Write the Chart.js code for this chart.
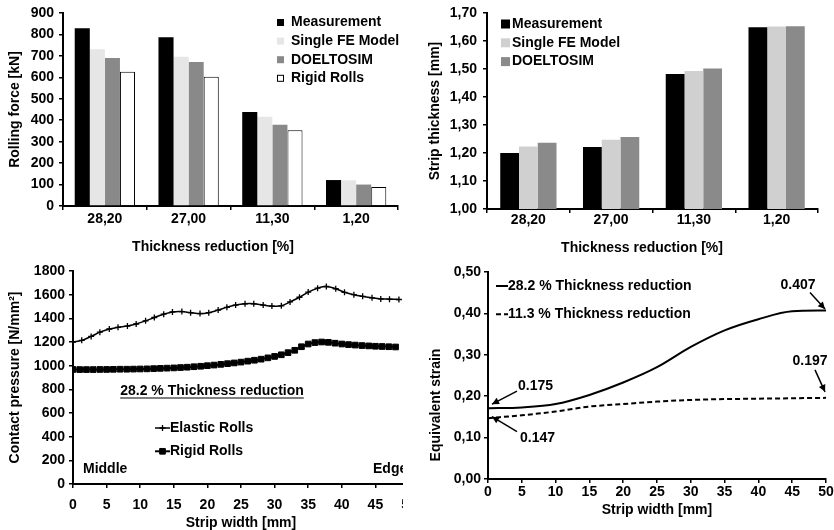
<!DOCTYPE html>
<html>
<head>
<meta charset="utf-8">
<script src="https://cdn.jsdelivr.net/npm/chart.js@4.4.0/dist/chart.umd.min.js"></script>
<style>
html, body { margin: 0; padding: 0; background: #fff; width: 834px; height: 530px; overflow: hidden; }
.panel { position: absolute; overflow: hidden; }
canvas { display: block; }
</style>
</head>
<body>
<div class="panel" style="left:0;top:0;width:420px;height:260px"><canvas id="force" width="417" height="256"></canvas></div>
<div class="panel" style="left:420px;top:0;width:414px;height:260px"><canvas id="thick" width="414" height="257"></canvas></div>
<div class="panel" style="left:0;top:260px;width:403px;height:270px"><canvas id="pressure" width="430" height="272"></canvas></div>
<div class="panel" style="left:420px;top:260px;width:414px;height:270px"><canvas id="strain" width="430" height="259"></canvas></div>
<script>
// top charts: thickness reduction categories
const reductions = ['28,20', '27,00', '11,30', '1,20'];
const forceMeasurement = [829, 787, 438, 121];
const forceSingleFE = [731, 696, 416, 120];
const forceDoeltosim = [690, 672, 379, 100];
const forceRigid = [626, 603, 353, 89];

const thickMeasurement = [1.200, 1.221, 1.482, 1.649];
const thickSingleFE = [1.223, 1.247, 1.493, 1.652];
const thickDoeltosim = [1.237, 1.257, 1.502, 1.653];

// contact pressure along strip width
const elasticX = [0, 1.3, 2.7, 4.0, 5.4, 6.7, 8.1, 9.4, 10.8, 12.1, 13.5, 14.8, 16.2, 17.5, 18.9, 20.2, 21.6, 22.9, 24.2,
    25.6, 26.9, 28.3, 29.6, 31.0, 32.3, 33.7, 35.0, 36.4, 37.7, 39.1, 40.4, 41.8, 43.1, 44.5, 45.8, 47.1, 48.5];
const elasticPressure = [1200, 1214, 1247, 1283, 1310, 1324, 1335, 1352, 1379, 1407, 1435, 1454, 1457, 1448, 1440, 1448, 1470, 1493, 1512,
    1523, 1523, 1512, 1504, 1506, 1539, 1578, 1622, 1655, 1669, 1650, 1620, 1600, 1586, 1573, 1564, 1562, 1559];
const rigidX = [0, 1, 2, 3, 4, 5, 6, 7, 8, 9, 10, 11, 12, 13, 14, 15, 16, 17, 18, 19, 20, 21, 22, 23, 24,
    25, 26, 27, 28, 29, 30, 31, 32, 33, 34, 35, 36, 37, 38, 39, 40, 41, 42, 43, 44, 45, 46, 47, 48];
const rigidPressure = [968, 967, 967, 967, 968, 968, 969, 970, 970, 971, 972, 973, 975, 977, 979, 981, 984, 987, 991, 995,
    1000, 1005, 1011, 1017, 1023, 1030, 1038, 1046, 1055, 1066, 1078, 1092, 1110, 1130, 1160, 1183, 1195, 1200, 1197, 1190,
    1183, 1178, 1174, 1170, 1167, 1164, 1162, 1160, 1158];

// equivalent strain along strip width
const strainX = [0, 5, 10, 15, 20, 25, 30, 35, 40, 45, 50];
const strain282 = [0.171, 0.173, 0.181, 0.203, 0.233, 0.270, 0.319, 0.359, 0.386, 0.405, 0.407];
const strain113 = [0.147, 0.154, 0.163, 0.175, 0.181, 0.187, 0.191, 0.193, 0.194, 0.195, 0.196];
const strainNoteText = ['0.175', '0.147', '0.407', '0.197'];

const FONT = '"Liberation Sans", Arial, sans-serif';
Chart.defaults.font.family = FONT;
Chart.defaults.font.size = 14;
Chart.defaults.font.weight = 'bold';
Chart.defaults.color = '#000';
Chart.defaults.animation = false;
Chart.defaults.plugins.legend.display = false;
Chart.defaults.plugins.tooltip.enabled = false;

const comma = (v) => v.toFixed(2).replace('.', ',');
const plain = (v) => String(v);

// shared look of an axis: black 2px line, small outside tick marks
const frame = (title, tickPad, titlePad, ticks = {}) => ({
    border: { display: true, color: '#000', width: 2 },
    grid: { display: true, drawOnChartArea: false, drawTicks: true, tickLength: 4, color: '#000', lineWidth: 1.5 },
    title: { display: !!title, text: title, padding: { top: titlePad, bottom: 0 }, font: { size: 14, weight: 'bold' } },
    ticks: { padding: tickPad, font: { size: 14, weight: 'bold', lineHeight: 1 }, ...ticks }
});

const boxKey = {
    id: 'boxKey',
    afterDraw(chart, args, o) {
        const ctx = chart.ctx;
        ctx.save();
        ctx.font = `bold 14px ${FONT}`;
        ctx.textBaseline = 'middle';
        chart.data.datasets.forEach((ds, i) => {
            const y = o.y + i * o.gap;
            ctx.fillStyle = ds.backgroundColor;
            ctx.fillRect(o.x, y - o.h / 2, o.w, o.h);
            if (ds.borderWidth) {
                ctx.lineWidth = 1;
                ctx.strokeStyle = ds.borderColor;
                ctx.strokeRect(o.x + 0.5, y - o.h / 2 + 0.5, o.w - 1, o.h - 1);
            }
            ctx.fillStyle = '#000';
            ctx.fillText(ds.label, o.textX, y);
        });
        ctx.textAlign = 'center';
        ctx.fillText(o.title, o.titleX, o.titleY);
        ctx.restore();
    }
};

const lineKey = {
    id: 'lineKey',
    afterDraw(chart, args, o) {
        const ctx = chart.ctx;
        ctx.save();
        ctx.font = `bold 14px ${FONT}`;
        ctx.textBaseline = 'middle';
        ctx.strokeStyle = '#000';
        ctx.fillStyle = '#000';
        chart.data.datasets.forEach((ds, i) => {
            const y = o.y + i * o.gap;
            ctx.lineWidth = ds.borderWidth;
            ctx.setLineDash(ds.borderDash || []);
            ctx.beginPath();
            ctx.moveTo(o.x0, y);
            ctx.lineTo(o.x1, y);
            ctx.stroke();
            ctx.setLineDash([]);
            if (ds.pointRadius) {
                ctx.lineWidth = ds.pointBorderWidth;
                Chart.helpers.drawPoint(ctx, { pointStyle: ds.pointStyle, radius: ds.pointRadius, rotation: 0, borderWidth: ds.pointBorderWidth }, (o.x0 + o.x1) / 2, y);
            }
            ctx.fillText(ds.label, o.textX, y);
        });
        (o.texts || []).forEach((t) => {
            ctx.textAlign = t.align || 'left';
            ctx.fillText(t.text, t.x, t.y);
            if (t.underline) {
                const w = ctx.measureText(t.text).width;
                const x0 = t.align === 'center' ? t.x - w / 2 : t.x;
                ctx.lineWidth = 1.2;
                ctx.beginPath();
                ctx.moveTo(x0, t.y + 7);
                ctx.lineTo(x0 + w, t.y + 7);
                ctx.stroke();
            }
        });
        if (o.yTitle) {
            ctx.translate(o.yTitle.x, o.yTitle.y);
            ctx.rotate(-Math.PI / 2);
            ctx.textAlign = 'center';
            ctx.fillText(o.yTitle.text, 0, 0);
        }
        ctx.restore();
    }
};

// arrows pointing at curve ends, anchored on the data through the scales
const arrowNotes = {
    id: 'arrowNotes',
    afterDraw(chart, args, o) {
        const ctx = chart.ctx;
        const xs = chart.scales.x, ys = chart.scales.y;
        ctx.save();
        ctx.font = `bold 14px ${FONT}`;
        ctx.textBaseline = 'middle';
        ctx.strokeStyle = '#000';
        ctx.fillStyle = '#000';
        ctx.lineWidth = 1.5;
        o.notes.forEach((n) => {
            const px = xs.getPixelForValue(strainX[n.i]);
            const py = ys.getPixelForValue(n.series[n.i]);
            const tx = px + n.tip[0], ty = py + n.tip[1];
            const sx = px + n.tail[0], sy = py + n.tail[1];
            ctx.beginPath();
            ctx.moveTo(sx, sy);
            ctx.lineTo(tx, ty);
            ctx.stroke();
            const a = Math.atan2(ty - sy, tx - sx);
            ctx.beginPath();
            ctx.moveTo(tx, ty);
            ctx.lineTo(tx - 7 * Math.cos(a) + 3.5 * Math.sin(a), ty - 7 * Math.sin(a) - 3.5 * Math.cos(a));
            ctx.lineTo(tx - 7 * Math.cos(a) - 3.5 * Math.sin(a), ty - 7 * Math.sin(a) + 3.5 * Math.cos(a));
            ctx.closePath();
            ctx.fill();
            ctx.textAlign = n.align;
            ctx.fillText(n.text, px + n.label[0], py + n.label[1]);
        });
        ctx.restore();
    }
};

new Chart(document.getElementById('force'), {
    type: 'bar',
    data: {
        labels: reductions,
        datasets: [
            { label: 'Measurement', data: forceMeasurement, backgroundColor: '#000000' },
            { label: 'Single FE Model', data: forceSingleFE, backgroundColor: '#e6e6e6' },
            { label: 'DOELTOSIM', data: forceDoeltosim, backgroundColor: '#898989' },
            { label: 'Rigid Rolls', data: forceRigid, backgroundColor: '#ffffff', borderColor: '#000000', borderWidth: 1 }
        ]
    },
    options: {
        responsive: false,
        layout: { padding: { top: 13, right: 19, bottom: 0, left: 0 } },
        datasets: { bar: { categoryPercentage: 0.72, barPercentage: 1 } },
        scales: {
            x: { ...frame('', 2, 0), afterFit: (s) => { s.height = 50; } },
            y: { ...frame('Rolling force [kN]', 5, 7, { stepSize: 100, callback: plain }), min: 0, max: 900, afterFit: (s) => { s.width = 63; } }
        },
        plugins: { boxKey: { x: 277, y: 22.5, gap: 18.6, w: 7, h: 7, textX: 291, title: 'Thickness reduction [%]', titleX: 213, titleY: 247 } }
    },
    plugins: [boxKey]
});

new Chart(document.getElementById('thick'), {
    type: 'bar',
    data: {
        labels: reductions,
        datasets: [
            { label: 'Measurement', data: thickMeasurement, backgroundColor: '#000000' },
            { label: 'Single FE Model', data: thickSingleFE, backgroundColor: '#d0d0d0' },
            { label: 'DOELTOSIM', data: thickDoeltosim, backgroundColor: '#8a8a8a' }
        ]
    },
    options: {
        responsive: false,
        layout: { padding: { top: 13, right: 16, bottom: 0, left: 0 } },
        datasets: { bar: { categoryPercentage: 0.68, barPercentage: 1 } },
        scales: {
            x: { ...frame('', 0, 0), afterFit: (s) => { s.height = 48; } },
            y: { ...frame('Strip thickness [mm]', 6, 7, { stepSize: 0.1, callback: comma }), min: 1, max: 1.7, afterFit: (s) => { s.width = 67; } }
        },
        plugins: { boxKey: { x: 81, y: 24, gap: 18.8, w: 9, h: 9, textX: 92, title: 'Thickness reduction [%]', titleX: 222, titleY: 248 } }
    },
    plugins: [boxKey]
});

new Chart(document.getElementById('pressure'), {
    type: 'line',
    data: {
        datasets: [
            { label: 'Elastic Rolls', data: elasticX.map((x, i) => ({ x, y: elasticPressure[i] })), borderColor: '#000', backgroundColor: '#000',
              borderWidth: 1.5, pointStyle: 'cross', pointRadius: 3, pointBorderWidth: 1.3, tension: 0.4 },
            { label: 'Rigid Rolls', data: rigidX.map((x, i) => ({ x, y: rigidPressure[i] })), borderColor: '#000', backgroundColor: '#000',
              borderWidth: 2, pointStyle: 'rect', pointRadius: 4, pointBorderWidth: 1, tension: 0.4 }
        ]
    },
    options: {
        responsive: false,
        layout: { padding: { top: 10, right: 21, bottom: 0, left: 0 } },
        scales: {
            x: { type: 'linear', ...frame('Strip width [mm]', 10, 0, { stepSize: 5, callback: plain }), min: 0, max: 50, afterFit: (s) => { s.height = 48; } },
            y: { ...frame('Contact pressure [N/mm²]', 4, 7, { stepSize: 200, callback: plain }), min: 0, max: 1800, afterFit: (s) => { s.width = 73; } }
        },
        plugins: {
            lineKey: {
                x0: 155, x1: 170, y: 168, gap: 23.3, textX: 170,
                texts: [
                    { text: '28.2 % Thickness reduction', x: 212, y: 131, align: 'center', underline: true },
                    { text: 'Middle', x: 83, y: 209 },
                    { text: 'Edge', x: 373, y: 209 }
                ]
            }
        }
    },
    plugins: [lineKey]
});

new Chart(document.getElementById('strain'), {
    type: 'line',
    data: {
        datasets: [
            { label: '28.2 % Thickness reduction', data: strainX.map((x, i) => ({ x, y: strain282[i] })), borderColor: '#000',
              borderWidth: 2, pointRadius: 0, cubicInterpolationMode: 'monotone' },
            { label: '11.3 % Thickness reduction', data: strainX.map((x, i) => ({ x, y: strain113[i] })), borderColor: '#000',
              borderWidth: 2, borderDash: [5, 3], pointRadius: 0, cubicInterpolationMode: 'monotone' }
        ]
    },
    options: {
        responsive: false,
        layout: { padding: { top: 12, right: 24, bottom: 0, left: 0 } },
        scales: {
            x: { type: 'linear', ...frame('Strip width [mm]', 2, 0, { stepSize: 5, callback: plain }), min: 0, max: 50, afterFit: (s) => { s.height = 40; } },
            y: { ...frame('', 3, 0, { stepSize: 0.1, callback: comma }), min: 0, max: 0.5, afterFit: (s) => { s.width = 68; } }
        },
        plugins: {
            lineKey: { x0: 76, x1: 88, y: 26, gap: 28.3, textX: 88, yTitle: { text: 'Equivalent strain', x: 16, y: 145 } },
            arrowNotes: {
                notes: [
                    { text: strainNoteText[0], series: strain282, i: 0, tip: [4, -4], tail: [29, -17], label: [30, -22], align: 'left' },
                    { text: strainNoteText[1], series: strain113, i: 0, tip: [4, -1.5], tail: [29, 13.5], label: [32, 20], align: 'left' },
                    { text: strainNoteText[2], series: strain282, i: 10, tip: [-1, -1.5], tail: [-16, -18], label: [-28, -25], align: 'center' },
                    { text: strainNoteText[3], series: strain113, i: 10, tip: [-1, -6], tail: [-11, -28], label: [-16, -37], align: 'center' }
                ]
            }
        }
    },
    plugins: [lineKey, arrowNotes]
});
</script>
</body>
</html>
